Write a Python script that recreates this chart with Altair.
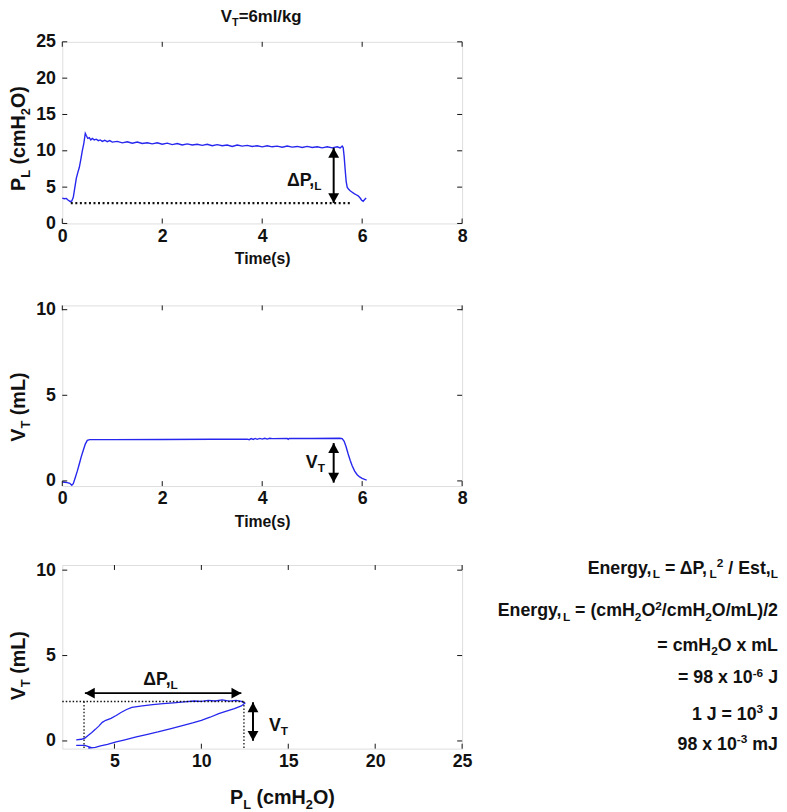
import altair as alt
import pandas as pd

FONT = "Liberation Sans"
BLUE = "#2626ee"
INK = "#111111"

# ---------------- data ----------------
# Panel 1: transpulmonary pressure vs time
t_pl = [0.00, 0.04, 0.08, 0.12, 0.16, 0.19, 0.22, 0.25, 0.28, 0.31,
        0.34, 0.37, 0.40, 0.43, 0.46, 0.48, 0.51, 0.54, 0.57, 0.60,
        0.64, 0.68, 0.72, 0.76, 0.80, 0.85, 0.90, 0.95,
        1.0, 1.1, 1.2, 1.3, 1.4, 1.5, 1.6, 1.7, 1.8, 1.9,
        2.0, 2.1, 2.2, 2.3, 2.4, 2.5, 2.6, 2.7, 2.8, 2.9,
        3.0, 3.1, 3.2, 3.3, 3.4, 3.5, 3.6, 3.7, 3.8, 3.9,
        4.0, 4.1, 4.2, 4.3, 4.4, 4.5, 4.6, 4.7, 4.8, 4.9,
        5.0, 5.1, 5.2, 5.3, 5.4, 5.5,
        5.56, 5.60, 5.62, 5.64, 5.66, 5.68, 5.70, 5.73, 5.76, 5.80,
        5.84, 5.88, 5.92, 5.96, 5.99, 6.02, 6.05, 6.08]
pl = [3.5, 3.4, 3.45, 3.2, 3.0, 3.1, 3.6, 4.9, 6.2, 7.0,
      7.7, 8.8, 10.0, 11.0, 12.4, 12.1, 11.7, 11.8, 11.5, 11.7,
      11.5, 11.6, 11.4, 11.5, 11.3, 11.45, 11.25, 11.4,
      11.2, 11.3, 11.1, 11.25, 11.05, 11.2, 11.0, 11.1, 10.95, 11.1,
      10.9, 11.05, 10.85, 11.0, 10.8, 10.95, 10.8, 10.9, 10.75, 10.9,
      10.7, 10.85, 10.7, 10.8, 10.6, 10.8, 10.65, 10.75, 10.6, 10.7,
      10.55, 10.7, 10.55, 10.65, 10.5, 10.65, 10.5, 10.6, 10.45, 10.6,
      10.45, 10.55, 10.4, 10.55, 10.4, 10.55,
      10.4, 10.65, 10.45, 9.2, 7.4, 5.8, 5.0, 4.7, 4.5, 4.3,
      4.1, 3.95, 3.8, 3.5, 3.2, 3.05, 3.3, 3.5]

# Panel 2: tidal volume vs time
t_vt = [0.00, 0.05, 0.10, 0.15, 0.19, 0.22, 0.26, 0.30, 0.34, 0.38,
        0.42, 0.46, 0.50, 0.55, 1.0, 2.0, 3.0, 3.70, 3.74, 3.78,
        3.82, 3.86, 3.90, 3.95, 4.00, 4.05, 4.10, 4.15, 4.20, 4.50,
        4.52, 4.54, 5.00, 5.55, 5.60, 5.64, 5.68, 5.72, 5.76, 5.80,
        5.85, 5.90, 5.95, 6.00, 6.05, 6.09]
vt = [-0.06, -0.08, -0.10, -0.14, -0.25, -0.16, 0.20, 0.57, 0.99, 1.42,
      1.79, 2.15, 2.37, 2.41, 2.41, 2.42, 2.43, 2.44, 2.41, 2.47,
      2.42, 2.48, 2.43, 2.48, 2.44, 2.49, 2.44, 2.49, 2.47, 2.48,
      2.43, 2.48, 2.48, 2.49, 2.47, 2.31, 1.98, 1.57, 1.21, 0.89,
      0.57, 0.36, 0.23, 0.15, 0.09, 0.05]

# Panel 3: pressure-volume loop (in drawing order)
loop_pl = [2.8, 3.3, 3.6, 3.5, 3.9, 4.2, 4.6, 5.1, 5.6, 6.2,
           6.9, 7.5, 8.2, 8.8, 9.5, 10.0, 10.5, 11.0, 11.4, 11.9,
           12.3, 12.5, 12.3, 12.0, 11.6, 11.2, 10.8, 10.4, 10.0, 9.6,
           9.0, 8.4, 7.8, 7.2, 6.6, 6.0, 5.7, 5.4, 5.1, 4.8,
           4.5, 4.3, 4.1, 3.9, 3.7, 3.5, 3.3, 3.1, 2.8]
loop_vt = [-0.26, -0.26, -0.36, -0.42, -0.38, -0.29, -0.20, -0.06, 0.07, 0.23,
           0.39, 0.53, 0.71, 0.87, 1.06, 1.21, 1.39, 1.60, 1.73, 1.89,
           2.05, 2.21, 2.32, 2.37, 2.33, 2.40, 2.34, 2.37, 2.32, 2.34,
           2.29, 2.23, 2.18, 2.13, 2.05, 1.97, 1.84, 1.68, 1.49, 1.32,
           1.21, 1.09, 0.87, 0.68, 0.50, 0.34, 0.17, 0.10, 0.07]

# tick values
x_time_ticks = [0, 2, 4, 6, 8]
y_pl_ticks = [0, 5, 10, 15, 20, 25]
y_vt_ticks = [0, 5, 10]
x_pl_ticks = [5, 10, 15, 20, 25]

# annotation values (data units)
dp_baseline = 2.8
dp_top = 10.4
arrow_t = 5.43
vt_arrow_top, vt_arrow_bot = 2.21, -0.1
loop_vt_max = 2.31
loop_p_min, loop_p_max = 3.25, 12.45

# ---------------- layout constants ----------------
W = 405
H1, H2, H3 = 184, 183, 186
ONE = pd.DataFrame({"k": [0]})

ADV = {" ": 278, "(": 333, ")": 333, ",": 278, "-": 333, "/": 278, "=": 584,
       "c": 556, "e": 556, "g": 611, "k": 556, "l": 278, "m": 889, "n": 611,
       "r": 389, "s": 556, "t": 333, "x": 556, "y": 556, "E": 667, "H": 722,
       "J": 556, "L": 611, "O": 778, "P": 667, "T": 611, "V": 667, "Δ": 700}
for _d in "0123456789":
    ADV[_d] = 556


def tw(s, fs):
    return sum(ADV.get(c, 556) for c in s) / 1000.0 * fs


def rich(parts, fs, ax, ay, align="left", rotated=False):
    """Text with sub/superscripts, positioned in pixels relative to the plot."""
    small = round(fs * 0.65)
    items, total = [], 0.0
    for txt, kind in parts:
        f = fs if kind == "n" else small
        shift = 0 if kind == "n" else (0.25 * fs if kind == "sub" else -0.38 * fs)
        lead = len(txt) - len(txt.lstrip(" "))
        items.append((txt.strip(), f, total + tw(" " * lead, f), shift))
        total += tw(txt, f)
    start = {"left": 0, "center": -total / 2, "right": -total}[align]
    out = []
    for txt, f, off, shift in items:
        if rotated:
            x, y, ang = ax + shift, ay - (start + off), 270
        else:
            x, y, ang = ax + start + off, ay + shift, 0
        out.append(alt.Chart(ONE).mark_text(
            text=txt, align="left", baseline="alphabetic", font=FONT,
            fontWeight="bold", fontSize=f, angle=ang, color=INK
        ).encode(x=alt.value(x), y=alt.value(y)))
    return out


AXL = dict(domain=False, ticks=False, grid=False, labelFont=FONT, labelFontSize=18,
           labelFontWeight="bold", labelColor=INK, format="d")


def xaxis(vals, title=None):
    kw = dict(AXL)
    kw.update(values=vals, labelFlush=False, labelPadding=4)
    if title is not None:
        kw.update(title=title, titleFont=FONT, titleFontSize=16, titleFontWeight="bold",
                  titleColor=INK, titlePadding=6)
    else:
        kw.update(title=None)
    return alt.Axis(**kw)


def yaxis(vals):
    kw = dict(AXL)
    kw.update(values=vals, labelFlush=False, labelPadding=7, title=None)
    return alt.Axis(**kw)


def enc(xf, yf, xs, ys, xa, ya):
    return dict(x=alt.X(xf, scale=xs, axis=xa), y=alt.Y(yf, scale=ys, axis=ya))


def tick_layers(xv, yv, xs, ys, xa, ya, h):
    dx = pd.DataFrame({"v": xv})
    dy = pd.DataFrame({"v": yv})
    st = dict(color=INK, strokeWidth=1)
    X = alt.X("v:Q", scale=xs, axis=xa)
    Y = alt.Y("v:Q", scale=ys, axis=ya)
    return [
        alt.Chart(dx).mark_rule(**st).encode(x=X, y=alt.value(h), y2=alt.value(h - 5)),
        alt.Chart(dx).mark_rule(**st).encode(x=X, y=alt.value(0), y2=alt.value(5)),
        alt.Chart(dy).mark_rule(**st).encode(y=Y, x=alt.value(0), x2=alt.value(5)),
        alt.Chart(dy).mark_rule(**st).encode(y=Y, x=alt.value(W), x2=alt.value(W - 5)),
    ]


UP = "M0,0L-0.55,1L0.55,1Z"
DOWN = "M0,0L-0.55,-1L0.55,-1Z"
LEFT = "M0,0L1,-0.55L1,0.55Z"
RIGHT = "M0,0L-1,-0.55L-1,0.55Z"


def head(x, y, shape, xs, ys, xa, ya):
    d = pd.DataFrame({"x": [x], "y": [y]})
    return alt.Chart(d).mark_point(shape=shape, filled=True, size=400, color="black",
                                   opacity=1).encode(**enc("x:Q", "y:Q", xs, ys, xa, ya))


def varrow(x, ytop, ybot, xs, ys, xa, ya):
    d = pd.DataFrame({"x": [x], "y": [ytop], "y2": [ybot]})
    r = alt.Chart(d).mark_rule(color="black", strokeWidth=2).encode(
        **enc("x:Q", "y:Q", xs, ys, xa, ya), y2="y2:Q")
    return [r, head(x, ytop, UP, xs, ys, xa, ya), head(x, ybot, DOWN, xs, ys, xa, ya)]


def harrow(y, xl, xr, xs, ys, xa, ya):
    d = pd.DataFrame({"x": [xl], "x2": [xr], "y": [y]})
    r = alt.Chart(d).mark_rule(color="black", strokeWidth=2).encode(
        **enc("x:Q", "y:Q", xs, ys, xa, ya), x2="x2:Q")
    return [r, head(xl, y, LEFT, xs, ys, xa, ya), head(xr, y, RIGHT, xs, ys, xa, ya)]


def label(x, y, main, sub, xs, ys, xa, ya, fs=18):
    d = pd.DataFrame({"x": [x], "y": [y]})
    e = enc("x:Q", "y:Q", xs, ys, xa, ya)
    a = alt.Chart(d).mark_text(text=main, align="right", baseline="alphabetic", font=FONT,
                               fontWeight="bold", fontSize=fs, color=INK).encode(**e)
    b = alt.Chart(d).mark_text(text=sub, align="left", baseline="alphabetic", font=FONT,
                               fontWeight="bold", fontSize=round(fs * 0.65),
                               dy=round(fs * 0.25), color=INK).encode(**e)
    return [a, b]


def hdots(x1, x2, y, xs, ys, xa, ya, dash, sw):
    d = pd.DataFrame({"x": [x1], "x2": [x2], "y": [y]})
    return alt.Chart(d).mark_rule(color=INK, strokeDash=dash, strokeWidth=sw).encode(
        **enc("x:Q", "y:Q", xs, ys, xa, ya), x2="x2:Q")


def vdots(x, y1, y2, xs, ys, xa, ya, dash, sw):
    d = pd.DataFrame({"x": [x], "y": [y1], "y2": [y2]})
    return alt.Chart(d).mark_rule(color=INK, strokeDash=dash, strokeWidth=sw).encode(
        **enc("x:Q", "y:Q", xs, ys, xa, ya), y2="y2:Q")


P_TITLE = [("P", "n"), ("L", "sub"), (" (cmH", "n"), ("2", "sub"), ("O)", "n")]
V_TITLE = [("V", "n"), ("T", "sub"), (" (mL)", "n")]

# ---------------- panel 1 ----------------
xs1 = alt.Scale(domain=[0, 8], nice=False, zero=False)
ys1 = alt.Scale(domain=[0, 25], nice=False, zero=False)
xa1 = xaxis(x_time_ticks, "Time(s)")
ya1 = yaxis(y_pl_ticks)

p1_layers = [
    alt.Chart(pd.DataFrame({"t": t_pl, "p": pl})).mark_line(color=BLUE, strokeWidth=1.4)
    .encode(**enc("t:Q", "p:Q", xs1, ys1, xa1, ya1)),
    hdots(0.17, 5.79, dp_baseline, xs1, ys1, xa1, ya1, [2, 2.6], 2.2),
]
p1_layers += varrow(arrow_t, dp_top, dp_baseline, xs1, ys1, xa1, ya1)
p1_layers += label(5.04, 5.16, "ΔP,", "L", xs1, ys1, xa1, ya1)
p1_layers += tick_layers(x_time_ticks, y_pl_ticks, xs1, ys1, xa1, ya1, H1)
p1_layers += rich([("V", "n"), ("T", "sub"), ("=6ml/kg", "n")], 17, 201.5, -20, "center")
p1_layers += rich(P_TITLE, 20, -38, 98, "center", rotated=True)
p1 = alt.layer(*p1_layers).properties(width=W, height=H1)

# ---------------- panel 2 ----------------
xs2 = alt.Scale(domain=[0, 8], nice=False, zero=False)
ys2 = alt.Scale(domain=[-0.3, 10.25], nice=False, zero=False)
xa2 = xaxis(x_time_ticks, "Time(s)")
ya2 = yaxis(y_vt_ticks)

p2_layers = [
    alt.Chart(pd.DataFrame({"t": t_vt, "v": vt})).mark_line(color=BLUE, strokeWidth=1.4)
    .encode(**enc("t:Q", "v:Q", xs2, ys2, xa2, ya2)),
]
p2_layers += varrow(arrow_t, vt_arrow_top, vt_arrow_bot, xs2, ys2, xa2, ya2)
p2_layers += label(5.11, 0.76, "V", "T", xs2, ys2, xa2, ya2)
p2_layers += tick_layers(x_time_ticks, y_vt_ticks, xs2, ys2, xa2, ya2, H2)
p2_layers += rich(V_TITLE, 20, -38, 103, "center", rotated=True)
p2 = alt.layer(*p2_layers).properties(width=W, height=H2)

# ---------------- panel 3 ----------------
xs3 = alt.Scale(domain=[2, 25], nice=False, zero=False)
ys3 = alt.Scale(domain=[-0.45, 10.3], nice=False, zero=False)
xa3 = xaxis(x_pl_ticks)
ya3 = yaxis(y_vt_ticks)

loop_df = pd.DataFrame({"p": loop_pl, "v": loop_vt, "i": list(range(len(loop_pl)))})
p3_layers = [
    alt.Chart(loop_df).mark_line(color=BLUE, strokeWidth=1.3)
    .encode(**enc("p:Q", "v:Q", xs3, ys3, xa3, ya3), order="i:Q"),
    hdots(2.0, loop_p_max, loop_vt_max, xs3, ys3, xa3, ya3, [1.5, 2], 1.3),
    vdots(loop_p_min, loop_vt_max, -0.45, xs3, ys3, xa3, ya3, [1.5, 2], 1.3),
    vdots(loop_p_max, loop_vt_max, -0.45, xs3, ys3, xa3, ya3, [1.5, 2], 1.3),
]
p3_layers += harrow(2.8, 3.3, 12.3, xs3, ys3, xa3, ya3)
p3_layers += varrow(12.97, 2.26, 0.01, xs3, ys3, xa3, ya3)
p3_layers += label(8.23, 3.27, "ΔP,", "L", xs3, ys3, xa3, ya3)
p3_layers += label(14.57, 0.58, "V", "T", xs3, ys3, xa3, ya3)
p3_layers += tick_layers(x_pl_ticks, y_vt_ticks, xs3, ys3, xa3, ya3, H3)
p3_layers += rich(V_TITLE, 20, -38, 102, "center", rotated=True)
p3_layers += rich(P_TITLE, 20, 223, 242, "center")

formula = [
    ([("Energy,", "n"), ("L", "sub"), (" = ΔP,", "n"), ("L", "sub"), ("2", "sup"),
      (" / Est,", "n"), ("L", "sub")], 9),
    ([("Energy,", "n"), ("L", "sub"), (" = (cmH", "n"), ("2", "sub"), ("O", "n"),
      ("2", "sup"), ("/cmH", "n"), ("2", "sub"), ("O/mL)/2", "n")], 52),
    ([("= cmH", "n"), ("2", "sub"), ("O x mL", "n")], 87),
    ([("= 98 x 10", "n"), ("-6", "sup"), (" J", "n")], 120),
    ([("1 J = 10", "n"), ("3", "sup"), (" J", "n")], 157),
    ([("98 x 10", "n"), ("-3", "sup"), (" mJ", "n")], 187),
]
for parts, base in formula:
    p3_layers += rich(parts, 18, 725, base, "right")
p3 = alt.layer(*p3_layers).properties(width=W, height=H3)

top = alt.vconcat(p1, p2, spacing=32)
chart = (
    alt.vconcat(top, p3, spacing=26)
    .properties(padding={"left": 0, "top": -6, "right": 0, "bottom": 0},
                background="white")
    .configure_view(stroke="#222222", strokeWidth=1.5)
    .configure(font=FONT)
)

chart.save("out.html", embed_options={"renderer": "svg", "actions": False})
